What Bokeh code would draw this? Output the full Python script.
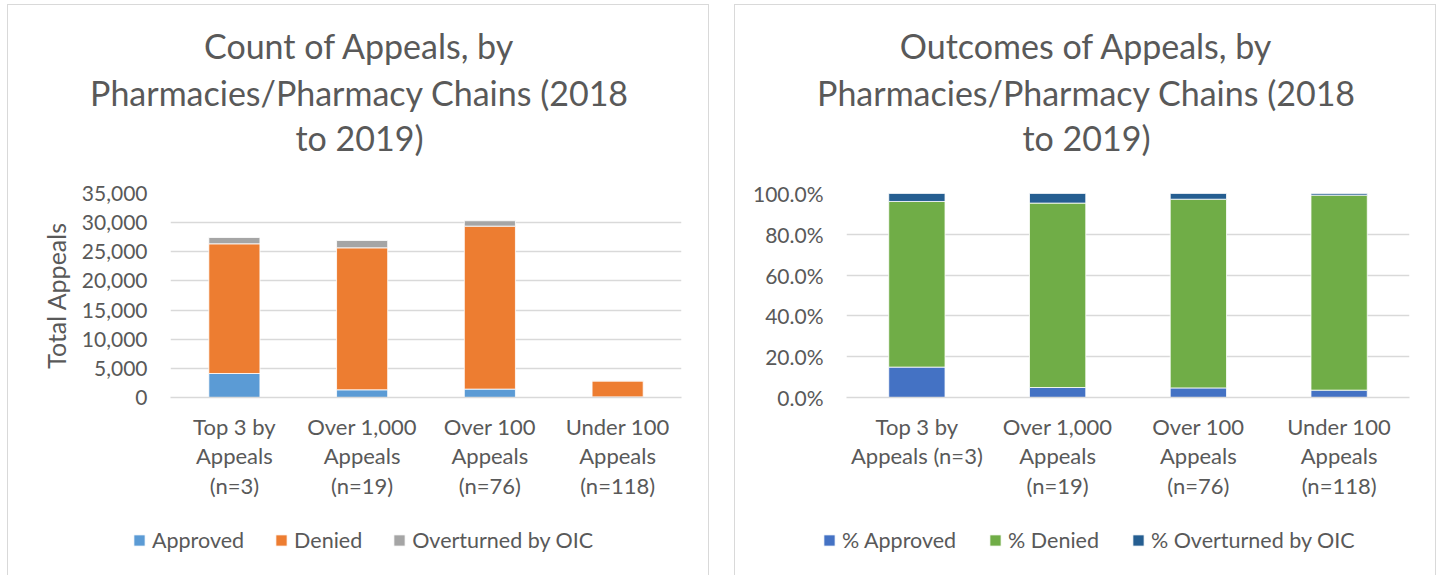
from bokeh.plotting import figure
from bokeh.models import (ColumnDataSource, FactorRange, Range1d, Legend, LegendItem, Label,
                          NumeralTickFormatter, SingleIntervalTicker, Spacer)
from bokeh.layouts import row, column
from bokeh.embed import file_html
from bokeh.resources import INLINE

# ---------------- data ----------------
categories_count = ["Top 3 by\nAppeals\n(n=3)", "Over 1,000\nAppeals\n(n=19)",
                    "Over 100\nAppeals\n(n=76)", "Under 100\nAppeals\n(n=118)"]
categories_pct = ["Top 3 by\nAppeals (n=3)", "Over 1,000\nAppeals\n(n=19)",
                  "Over 100\nAppeals\n(n=76)", "Under 100\nAppeals\n(n=118)"]

approved = [4120, 1320, 1440, 103]
denied = [22250, 24360, 27960, 2739]
overturned = [1080, 1260, 920, 23]

pct_approved = [14.9, 4.9, 4.7, 3.6]
pct_denied = [81.2, 90.4, 92.5, 95.6]
pct_overturned = [3.9, 4.7, 2.8, 0.8]

count_series = ["Approved", "Denied", "Overturned by OIC"]
pct_series = ["% Approved", "% Denied", "% Overturned by OIC"]
count_colors = ["#5B9BD5", "#ED7D31", "#A5A5A5"]
pct_colors = ["#4472C4", "#70AD47", "#255E91"]

count_title = ["Count of Appeals, by", "Pharmacies/Pharmacy Chains (2018", "to 2019)"]
pct_title = ["Outcomes of Appeals, by", "Pharmacies/Pharmacy Chains (2018", "to 2019)"]

count_max, count_step = 35000, 5000
pct_max, pct_step = 1.0, 0.2

# ---------------- style / layout ----------------
FONT = "Lato"
TXT = "#595959"
GRID = "#D9D9D9"
BORDER = "1px solid #D9D9D9"
PANEL_W = 702                 # element width incl. 1px borders (border-box)
CANVAS_W = PANEL_W - 2
TITLE_H = 166                 # incl. top border
TITLE_BASELINES = [40, 86, 131.5]   # px from top of title canvas
CHART_H = 345
CHART_TOP, FRAME_H = 23, 204
LEGEND_H = 60


def no_align(f):
    try:
        f.frame_align = False
    except Exception:
        pass


def blank_fig(h, styles):
    f = figure(width=PANEL_W, height=h, x_range=Range1d(0, 1), y_range=Range1d(h - 1, 0),
               output_backend="svg", toolbar_location=None, title=None, min_border=0,
               min_border_left=0, min_border_right=0, min_border_top=0, min_border_bottom=0,
               styles=styles)
    f.axis.visible = False
    f.grid.visible = False
    f.outline_line_color = None
    f.background_fill_color = "white"
    f.border_fill_color = "white"
    no_align(f)
    return f


def make_panel(cats, series, colors, values, ymax, ystep, fmt, title_lines,
               border_left, frame_w, ylabel, legend_x, legend_spacing):
    # ---- title ----
    t = blank_fig(TITLE_H, {"border-top": BORDER, "border-left": BORDER, "border-right": BORDER})
    for line, by in zip(title_lines, TITLE_BASELINES):
        t.add_layout(Label(x=0.5, y=by, text=line, text_align="center",
                           text_baseline="alphabetic", text_font=FONT,
                           text_font_size="34px", text_color=TXT))

    # ---- chart ----
    border_right = CANVAS_W - border_left - frame_w
    border_bottom = CHART_H - CHART_TOP - FRAME_H
    p = figure(x_range=FactorRange(*cats), y_range=Range1d(0, ymax),
               width=PANEL_W, height=CHART_H, output_backend="svg", toolbar_location=None,
               min_border_left=border_left, min_border_right=border_right,
               min_border_top=CHART_TOP, min_border_bottom=border_bottom,
               styles={"border-left": BORDER, "border-right": BORDER})
    no_align(p)
    p.outline_line_color = None
    p.background_fill_color = "white"
    p.border_fill_color = "white"

    data = {"cat": cats}
    for s, v in zip(series, values):
        data[s] = v
    src = ColumnDataSource(data)
    p.vbar_stack(series, x="cat", width=0.4, color=colors, line_color="white",
                 line_width=0.8, source=src)

    p.xaxis.major_label_text_font = FONT
    p.xaxis.major_label_text_font_size = "22px"
    p.xaxis.major_label_text_color = TXT
    p.xaxis.major_label_text_line_height = 1.11
    p.xaxis.major_label_standoff = 9
    p.xaxis.major_tick_line_color = None
    p.xaxis.minor_tick_line_color = None
    p.xaxis.axis_line_color = GRID
    p.xaxis.axis_line_width = 1.3

    p.yaxis.ticker = SingleIntervalTicker(interval=ystep)
    p.yaxis.formatter = NumeralTickFormatter(format=fmt)
    p.yaxis.major_label_text_font = FONT
    p.yaxis.major_label_text_font_size = "21px"
    p.yaxis.major_label_text_color = TXT
    p.yaxis.major_label_standoff = 17
    p.yaxis.major_tick_line_color = None
    p.yaxis.minor_tick_line_color = None
    p.yaxis.axis_line_color = None
    if ylabel:
        p.yaxis.axis_label = ylabel
        p.yaxis.axis_label_text_font = FONT
        p.yaxis.axis_label_text_font_size = "25px"
        p.yaxis.axis_label_text_font_style = "normal"
        p.yaxis.axis_label_text_color = TXT
        p.yaxis.axis_label_standoff = 8

    p.xgrid.grid_line_color = None
    p.ygrid.grid_line_color = GRID
    p.ygrid.grid_line_width = 1.3

    # ---- legend ----
    lg = blank_fig(LEGEND_H, {"border-left": BORDER, "border-right": BORDER})
    hidden = ColumnDataSource({"x": [float("nan")], "top": [float("nan")]})
    items = []
    for s, c in zip(series, colors):
        r = lg.vbar(x="x", top="top", width=0.1, color=c, line_color="white",
                    line_width=0.8, source=hidden)
        items.append(LegendItem(label=s, renderers=[r]))
    leg = Legend(items=items, orientation="horizontal", location=(legend_x, 22),
                 padding=0, margin=0, spacing=legend_spacing, label_standoff=6,
                 glyph_width=14, glyph_height=14, border_line_color=None,
                 background_fill_alpha=0, label_text_font=FONT,
                 label_text_font_size="21.5px", label_text_color=TXT)
    lg.add_layout(leg, "center")

    return column(t, p, lg, spacing=0)


left = make_panel(categories_count, count_series, count_colors,
                  [approved, denied, overturned], count_max, count_step, "0,0",
                  count_title, border_left=162, frame_w=509,
                  ylabel="Total Appeals", legend_x=124, legend_spacing=30)

right = make_panel(categories_pct, pct_series, pct_colors,
                   [[v / 100 for v in pct_approved], [v / 100 for v in pct_denied],
                    [v / 100 for v in pct_overturned]],
                   pct_max, pct_step, "0.0%", pct_title, border_left=111,
                   frame_w=561, ylabel=None, legend_x=87, legend_spacing=32)

layout = column(Spacer(height=4),
                row(Spacer(width=7), left, Spacer(width=25), right, spacing=0),
                spacing=0)
open("out.html", "w").write(file_html(layout, INLINE))
